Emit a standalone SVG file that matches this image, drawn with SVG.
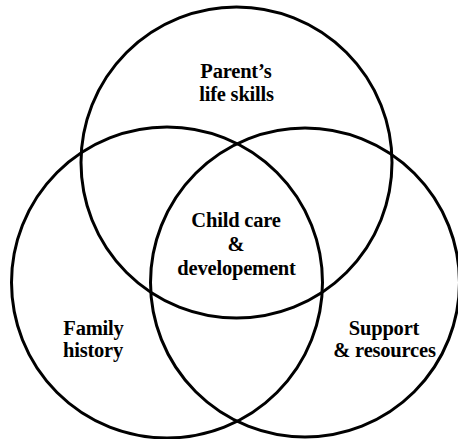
<svg xmlns="http://www.w3.org/2000/svg" width="458" height="439" viewBox="0 0 458 439">
<style>
.c{fill:none;stroke:#000;stroke-width:3}
.t{font-family:"Liberation Serif","Times New Roman",serif;font-weight:bold;font-size:20.5px;fill:#000;text-anchor:middle;letter-spacing:-0.2px}
</style>
<rect width="458" height="439" fill="#fff"/>
<g id="connectors"></g>
<g id="parent-life-skills">
<circle class="c" cx="236.5" cy="162.5" r="155.5"/>
<text class="t" x="236" y="78">Parent’s</text>
<text class="t" x="236.5" y="101">life skills</text>
</g>
<g id="family-history">
<circle class="c" cx="167" cy="282.5" r="155.5"/>
<text class="t" x="93.5" y="335">Family</text>
<text class="t" x="93" y="357">history</text>
</g>
<g id="support-resources">
<circle class="c" cx="305" cy="282.5" r="154.5"/>
<text class="t" x="384" y="335">Support</text>
<text class="t" x="384.5" y="357">&amp; resources</text>
</g>
<g id="child-care">
<text class="t" x="236" y="227">Child care</text>
<text class="t" x="236" y="251">&amp;</text>
<text class="t" x="236.5" y="275">developement</text>
</g>
</svg>
